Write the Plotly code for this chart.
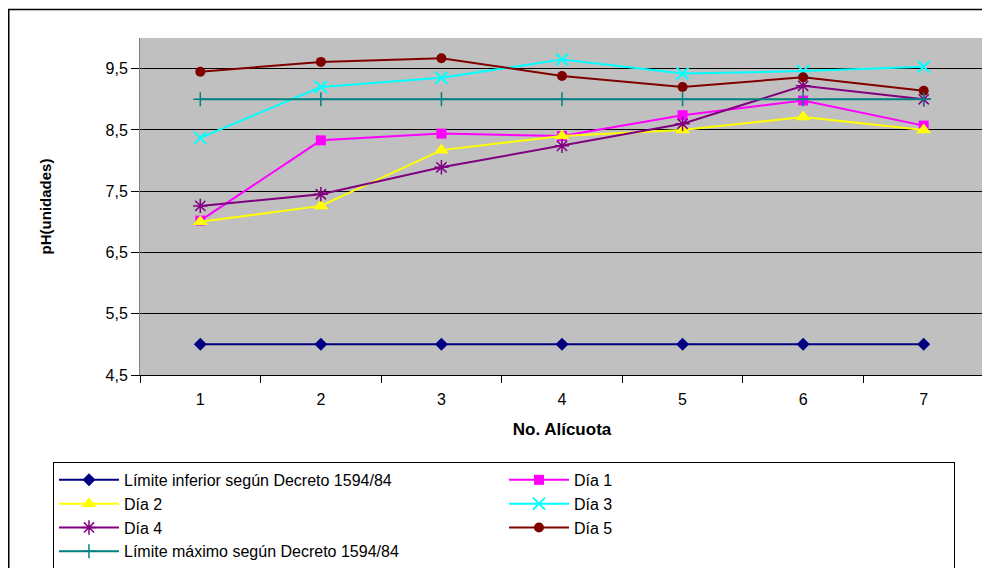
import plotly.graph_objects as go

# pH por alícuota
alicuotas = ['1', '2', '3', '4', '5', '6', '7']
limite_inferior = [5.0, 5.0, 5.0, 5.0, 5.0, 5.0, 5.0]
dia_1 = [7.02, 8.33, 8.44, 8.40, 8.74, 8.98, 8.57]
dia_2 = [7.00, 7.26, 8.17, 8.40, 8.50, 8.71, 8.50]
dia_3 = [8.37, 9.20, 9.35, 9.65, 9.42, 9.46, 9.53]
dia_4 = [7.26, 7.45, 7.89, 8.24, 8.60, 9.22, 9.00]
dia_5 = [9.45, 9.61, 9.67, 9.38, 9.20, 9.36, 9.14]
limite_maximo = [9.0, 9.0, 9.0, 9.0, 9.0, 9.0, 9.0]

y_ticks = [4.5, 5.5, 6.5, 7.5, 8.5, 9.5]
y_tick_labels = ['4,5', '5,5', '6,5', '7,5', '8,5', '9,5']

FONT = 'Liberation Sans, Arial, sans-serif'

series = [
    ('Límite inferior según Decreto 1594/84', limite_inferior, '#000080',
     dict(symbol='diamond', size=10)),
    ('Día 1', dia_1, '#FF00FF', dict(symbol='square', size=10)),
    ('Día 2', dia_2, '#FFFF00', dict(symbol='triangle-up', size=13)),
    ('Día 3', dia_3, '#00FFFF',
     dict(symbol='x-thin', size=12, line=dict(width=2, color='#00FFFF'))),
    ('Día 4', dia_4, '#800080',
     dict(symbol='asterisk', size=12, line=dict(width=1.5, color='#800080'))),
    ('Día 5', dia_5, '#800000', dict(symbol='circle', size=10)),
    ('Límite máximo según Decreto 1594/84', limite_maximo, '#008080',
     dict(symbol='cross-thin', size=10, line=dict(width=1.5, color='#008080'))),
]

fig = go.Figure()
for name, values, color, marker in series:
    fig.add_trace(go.Scatter(
        x=alicuotas,
        y=values,
        name=name,
        mode='lines+markers',
        line=dict(color=color, width=2),
        marker=dict(color=color, **marker),
    ))

# la página tiene 8 px de margen en el body, así que todo va 8 px más arriba/izquierda
fig.update_layout(
    width=990,
    height=568,
    margin=dict(l=132, r=14, t=30, b=201, autoexpand=False),
    paper_bgcolor='white',
    plot_bgcolor='#C0C0C0',
    font=dict(family=FONT, size=16, color='black'),
    showlegend=True,
    legend=dict(
        orientation='h',
        x=-0.1031,
        xanchor='left',
        y=-0.258,
        yanchor='top',
        entrywidth=375,
        entrywidthmode='pixels',
        itemwidth=60,
        bgcolor='white',
        bordercolor='black',
        borderwidth=1,
        font=dict(family=FONT, size=16),
    ),
    shapes=[
        # marco exterior del gráfico
        dict(type='rect', xref='paper', yref='paper',
             x0=-0.1555, x1=1.2, y0=-1.0, y1=1.0846,
             line=dict(color='black', width=1.5), layer='below'),
    ],
)

fig.update_xaxes(
    type='category',
    range=[-0.5, len(alicuotas) - 0.5],
    tickson='boundaries',
    ticks='outside',
    ticklen=7,
    tickcolor='black',
    ticklabelstandoff=10,
    showline=True,
    linecolor='black',
    mirror=False,
    showgrid=False,
    tickfont=dict(size=16),
    title=dict(text='<b>No. Alícuota</b>', font=dict(size=17), standoff=15),
)
fig.update_yaxes(
    range=[4.5, 10],
    tickvals=y_ticks,
    ticktext=y_tick_labels,
    ticks='outside',
    ticklen=8,
    tickcolor='black',
    showline=True,
    linecolor='#808080',
    mirror=True,
    showgrid=True,
    gridcolor='black',
    gridwidth=1,
    zeroline=False,
    tickfont=dict(size=16),
    title=dict(text='<b>pH(unidades)</b>', font=dict(size=15), standoff=50),
)

fig.write_html('out.html')
